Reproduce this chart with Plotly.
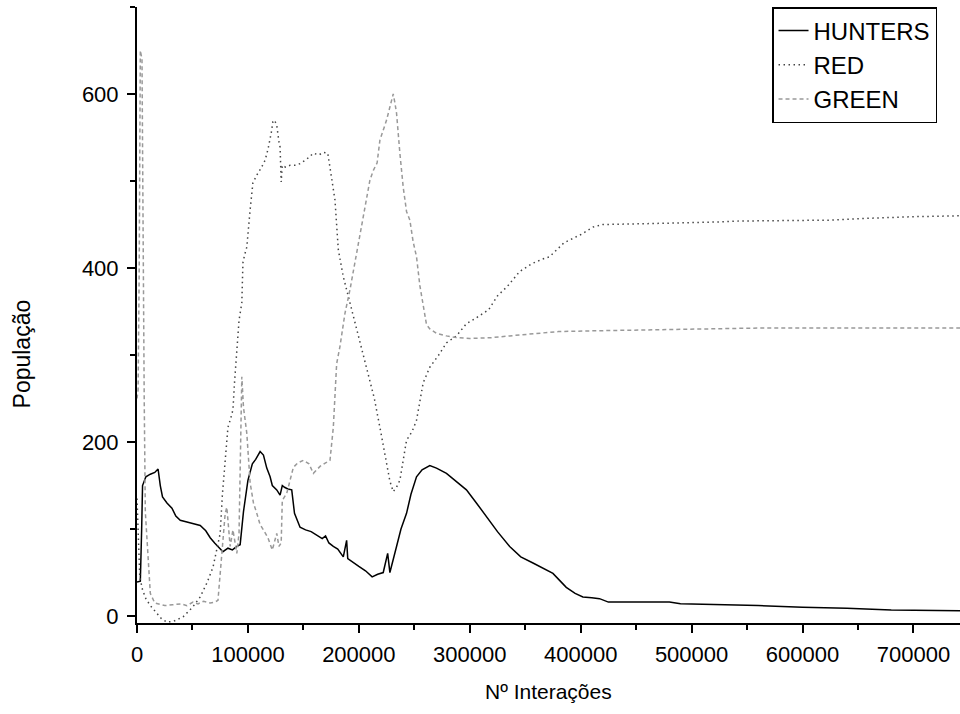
import plotly.graph_objects as go

# ---------------- data ----------------
hunters_x = [0, 3000, 4200, 5000, 8000, 12000, 16000, 19000, 21000, 23000, 27000, 31500, 35000,
             39000, 45000, 50000, 57000, 62000, 66000, 70000, 74000, 77500, 82000, 86000, 90000,
             93000, 96000, 100000, 104000, 107000, 111000, 114000, 117000, 120000, 122000, 126000,
             129000, 131000, 133000, 136000, 139500, 141000, 142000, 147000, 152000, 157000,
             162000, 167000, 170000, 173000, 177000, 181000, 186000, 189000, 190000, 195000,
             200000, 206000, 212000, 217000, 222000, 226000, 228000, 234000, 238000, 243000,
             247000, 252000, 257000, 264000, 270000, 279000, 288000, 297000, 306000, 315000,
             325000, 336000, 346000, 357000, 366000, 375000, 381000, 387000, 395000, 402000,
             410000, 417000, 425000, 480000, 490000, 530000, 560000, 600000, 640000, 680000, 742000]
hunters_y = [39, 40, 100, 150, 160, 163, 165, 169, 150, 137, 130, 124, 115,
             110, 108, 106, 104, 98, 90, 84, 78, 74, 78, 76, 80,
             82, 120, 156, 175, 180, 189, 185, 170, 160, 150, 145,
             139, 150, 148, 146, 145, 130, 118, 102, 99, 97,
             93, 89, 92, 84, 80, 77, 68, 87, 66, 61,
             57, 52, 45, 48, 50, 72, 50, 80, 100, 118,
             140, 160, 168, 173, 170, 164, 155, 145, 130, 114,
             97, 80, 68, 61, 55, 49, 41, 33, 26, 22,
             21, 20, 16, 16, 14, 13, 12, 10, 9, 7, 6]

red_x = [0, 1000, 2500, 5000, 8000, 12000, 17000, 22000, 27000, 33000, 41500, 50000, 57000,
         63000, 68500, 72000, 75000, 77000, 79500, 82000, 84000, 86500, 88000, 90000, 92000,
         94500, 95500, 97000, 99000, 102000, 104500, 109000, 112000, 115500, 118000, 121000,
         122500, 124000, 126000, 128000, 129000, 130000, 131000, 134000, 138000, 143000,
         147000, 153000, 159000, 164000, 168000, 172000, 175500, 178500, 181500, 186000,
         192000, 201000, 208000, 214000, 220000, 224000, 228000, 231000, 234000, 237000,
         240000, 243000, 248000, 252000, 258000, 264000, 272000, 279000, 288000, 297000,
         305000, 317000, 325000, 334000, 345000, 356000, 365000, 372000, 385000, 401000,
         411000, 420000, 460000, 500000, 527000, 543000, 624000, 656000, 700000, 742000]
red_y = [135, 90, 45, 30, 20, 12, 5, -3, -7, -6, -1, 10, 22,
         38, 56, 75, 95, 140, 179, 217, 225, 237, 270, 300, 340,
         360, 406, 415, 424, 467, 498, 509, 515, 524, 536, 555,
         568, 570, 564, 545, 539, 499, 518, 516, 518, 518,
         520, 525, 532, 530, 533, 532, 505, 478, 421, 390,
         360, 314, 280, 250, 210, 180, 155, 143, 148, 156,
         180, 202, 212, 225, 268, 286, 300, 314, 322, 336,
         342, 352, 368, 379, 396, 405, 410, 413, 429, 439,
         447, 450, 451, 452, 453, 454, 455, 457, 459, 460]

green_x = [0, 1000, 2000, 3000, 4500, 5500, 6500, 7500, 9000, 10500, 12000, 16000, 20000,
           25000, 32000, 40000, 45000, 50500, 55000, 60000, 66000, 70000, 73000, 76500, 79500,
           81000, 84000, 86500, 88000, 90000, 92000, 93500, 94500, 96000, 99000, 102000,
           105000, 108000, 111000, 114000, 118000, 122000, 126000, 128000, 130000, 131000,
           135000, 141000, 145000, 150000, 155000, 159000, 165000, 170000, 174000, 177000,
           180000, 183000, 187500, 192000, 196500, 201000, 205500, 210000, 213000, 216500,
           219000, 222000, 225000, 228000, 231000, 232500, 234000, 237000, 240000, 243000,
           246000, 249000, 252000, 255000, 258000, 261000, 264000, 270000, 279000, 288000,
           300000, 320000, 336000, 360000, 380000, 420000, 500000, 560000, 742000]
green_y = [250, 260, 400, 650, 640, 400, 250, 120, 90, 60, 26, 15, 14,
           12, 13, 14, 12, 16, 14, 17, 15, 16, 18, 72, 118,
           125, 80, 99, 85, 72, 95, 200, 275, 240, 210, 153,
           130, 118, 105, 99, 90, 76, 95, 80, 84, 133,
           141, 171, 176, 179, 175, 164, 172, 176, 179, 217,
           290, 310, 348, 375, 406, 436, 470, 501, 512, 521,
           547, 558, 570, 585, 600, 590, 578, 532, 493, 465,
           455, 430, 413, 380, 355, 335, 330, 325, 322, 320,
           319, 320, 322, 325, 327, 328, 330, 331, 331]

series_names = ["HUNTERS", "RED", "GREEN"]
x_tick_vals = [0, 100000, 200000, 300000, 400000, 500000, 600000, 700000]
y_tick_vals = [0, 200, 400, 600]

FONT = "Liberation Sans, Arial, sans-serif"

fig = go.Figure()
fig.add_trace(go.Scatter(x=hunters_x, y=hunters_y, mode="lines", name=series_names[0],
                         line=dict(color="black", width=1.5)))
fig.add_trace(go.Scatter(x=red_x, y=red_y, mode="lines", name=series_names[1],
                         line=dict(color="#444444", width=1.5, dash="1.5px,3.5px")))
fig.add_trace(go.Scatter(x=green_x, y=green_y, mode="lines", name=series_names[2],
                         line=dict(color="#999999", width=1.5, dash="4px,3px")))

axis_common = dict(showgrid=False, zeroline=False, showline=True, linecolor="black", linewidth=2,
                   ticks="outside", ticklen=8, tickwidth=2, tickcolor="black",
                   tickfont=dict(family=FONT, size=22, color="black"), mirror=False)

fig.update_xaxes(range=[0, 742000], tickvals=x_tick_vals,
                 ticktext=[str(v) for v in x_tick_vals],
                 minor=dict(dtick=50000, ticklen=5, tickwidth=2, tickcolor="black", ticks="outside"),
                 ticklabelstandoff=3,
                 **axis_common)
fig.update_yaxes(range=[-8, 700], tickvals=y_tick_vals,
                 ticktext=[str(v) for v in y_tick_vals],
                 minor=dict(dtick=100, ticklen=5, tickwidth=2, tickcolor="black", ticks="outside"),
                 ticklabelstandoff=4,
                 **axis_common)

fig.update_layout(
    width=960, height=714,
    margin=dict(l=137, r=0, t=7, b=91),
    paper_bgcolor="white", plot_bgcolor="white",
    showlegend=True,
    legend=dict(x=0.7716, y=1, xanchor="left", yanchor="top", bgcolor="white",
                bordercolor="black", borderwidth=1.5,
                font=dict(family=FONT, size=24, color="black"),
                itemwidth=30, tracegroupgap=0),
    annotations=[
        dict(text="Nº Interações", xref="paper", yref="paper", x=0.4994, y=-0.112,
             xanchor="center", yanchor="middle", showarrow=False,
             font=dict(family=FONT, size=21, color="black")),
        dict(text="População", xref="paper", yref="paper", x=-0.1397, y=0.436,
             xanchor="center", yanchor="middle", showarrow=False, textangle=-90,
             font=dict(family=FONT, size=23, color="black")),
    ],
)

# remove the default 8px page margin so the figure sits at the window origin
fig.write_html("out.html",
               config={"displayModeBar": False},
               post_script="document.body.style.margin='0';document.body.style.overflow='hidden';")
